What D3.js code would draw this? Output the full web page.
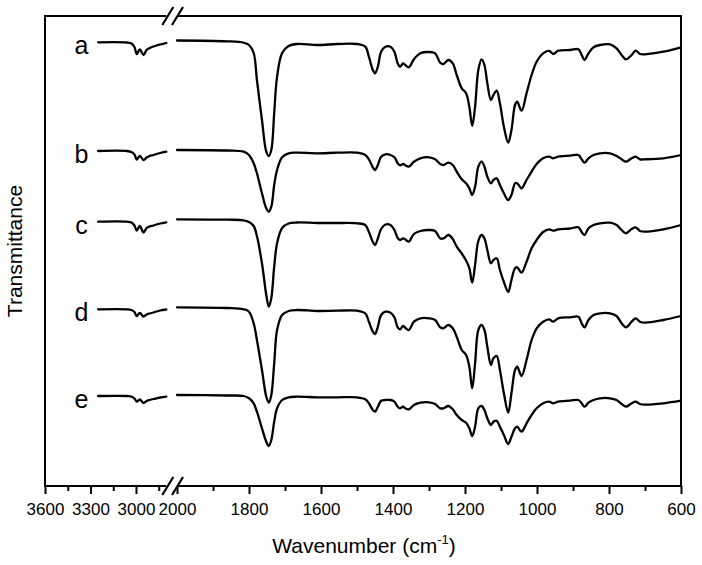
<!DOCTYPE html>
<html>
<head>
<meta charset="utf-8">
<script src="https://cdn.jsdelivr.net/npm/d3@7"></script>
<style>
  html, body { margin: 0; padding: 0; background: #fff; }
  svg { display: block; font-family: "Liberation Sans", Arial, sans-serif; }
</style>
</head>
<body>
<div id="chart"></div>
<script>
// ---------------- DATA ----------------
const traceLabels = ["a", "b", "c", "d", "e"];

// high-wavenumber segment (cm-1)
const wnHigh = [3250, 3060, 3030, 3010, 2995, 2975, 2950, 2930, 2910, 2885, 2865, 2840, 2800];
// low-wavenumber segment (cm-1)
const wnLow = [2000,1860,1815,1800,1787,1778,1764,1752,1745,1738,1730,1722,1708,1690,1667,1610,1555,1500,1477,1467,
  1456,1450,1442,1433,1421,1407,1396,1387,1380,1372,1366,1356,1342,1324,1300,1283,1269,1260,1246,1234,
  1223,1209,1197,1188,1180,1172,1163,1154,1146,1138,1128,1121,1112,1103,1092,1080,1071,1061,1055,1043,
  1029,1015,1001,983,966,955,941,908,885,876,868,857,843,825,797,779,765,753,737,726,714,700,649,600];

// transmittance (a.u., stacked) — high segment
const aHigh = [443.7, 443.5, 442.5, 439, 432, 436.5, 431, 436, 438, 439.5, 440.5, 441.5, 443];
const bHigh = [335, 335, 334, 331.5, 326.5, 330, 326, 328.5, 330, 331, 332, 333, 334.3];
const cHigh = [264.3, 264.3, 263.5, 260.5, 255.3, 260, 253.5, 258, 259.5, 260.5, 261.5, 262.5, 263.7];
const dHigh = [176.7, 176.7, 176, 174, 170, 173, 169.5, 171.5, 172.5, 173.5, 174.5, 175.5, 176.5];
const eHigh = [90, 90, 89.5, 87.5, 84.3, 86.5, 83, 85, 86, 87, 87.7, 88.5, 89.3];

// transmittance (a.u., stacked) — low segment
const aLow = [445.5,444.7,443.3,441,433,406,366,334.3,330,336,
  373,409.3,433,440,442,441,442,442,439.3,429.3,
  416,412.7,419.3,434.3,439.3,439.3,434.3,422.7,419.3,422.7,
  421,418.7,426.7,432.7,434,432.7,423.3,422,426,422.7,
  411,397.7,392.7,379.3,360,379.3,416,426.7,421,402.7,
  386,391,395.3,382.7,359.3,343.3,356,381,384.3,375.3,
  392.7,411,424.3,432.7,435,432,435.3,436,436.7,431,
  426,432.7,438.7,441,441.7,437.7,431,426.7,431,435.3,
  432,431.7,434.3,438.7];
const bLow = [336,335.5,334.3,331,322.7,312.7,292.7,277.7,274.3,279.3,
  301,316,328.7,332.7,333.3,332.7,333.3,333.3,331,326.7,
  318.7,316,321,329.3,331.7,331,328.7,322.7,320.7,322,
  320.7,319.3,324.3,327.7,328.7,326.7,322,321,323.3,321,
  314.3,306.7,302.7,297.7,291,299.3,319.3,324.3,319.3,309.3,
  302.7,306,307.7,301,292.7,286,291,302.7,302.7,297.7,
  306,314.3,322,327.7,329.3,327.7,329.3,330.3,331,326.7,
  323.3,327.7,331,332.7,332.7,330,326.7,324.3,327.7,329.3,
  326.7,326.7,327.7,331];
const cLow = [266.7,266.3,265.7,264,260,250,222.7,191,179.3,188,
  219.3,242.7,258,262.5,263.5,263,263,262.7,261,254,
  244,241,247.7,257,261.5,261,256,248,246,247.7,
  246.7,244.3,252,255,256,255,247.7,247.5,251,247,
  239.3,232.5,225.5,218,203.3,221,245,251,247.5,236,
  222.7,226,227.7,216,204,194,206,217.7,218.7,213.3,
  224.3,237.7,246,254,256.7,255.3,256.7,257.5,258.7,254,
  251,257.7,261,262.7,263.3,261,256,252.7,257,258.7,
  255,254.3,256.7,261];
const dLow = [178.7,178,176.7,174.3,162.7,146,116,89.3,83.3,91,
  122.7,156,171,175,176,175,175.3,175.3,172.7,164.3,
  154.3,152,159.3,171,174.3,173.3,168.7,158.7,156.7,160,
  158.3,156,164.3,167.7,167.7,166,158.7,157.7,161,157.7,
  149.3,136,131,119.3,97.7,122.7,156,161,156,139.3,
  121,127.7,130,116,92.7,73.3,92.7,116,119.3,110,
  126,146,157.7,164.3,166.7,164.3,167.7,168.7,169.3,162.7,
  158.7,166,171,172.7,172.7,170,162.7,158.7,164.3,167.7,
  164.3,163.3,166,170];
const eLow = [91,90.5,90,87.7,82.7,74.3,57.7,44.3,40,46,
  64.3,77.7,86,88.7,89.3,88.7,88.7,88.7,86.7,82.7,
  76,74.3,79.3,85.3,86,86,84.3,79.3,77.7,79.3,
  77.7,76.7,81,83.3,83.7,82,77.7,77.7,80,76.7,
  71,66,63.3,57.7,50,59.3,77.7,80,76,67.7,
  61,64.3,65.3,59.3,51,42,49.3,57.7,59.3,54.3,
  62.7,71,77.7,82.7,84.3,82.7,84.3,85.3,86,82.7,
  79.3,83.3,86,87.7,87.7,86,82,79.3,82.7,84.3,
  82,81.3,82.7,85.3];

const highSeries = [aHigh, bHigh, cHigh, dHigh, eHigh];
const lowSeries = [aLow, bLow, cLow, dLow, eLow];

const majorHigh = [3600, 3300, 3000];
const minorHigh = [3450, 3150, 2850];
const majorLow = [2000, 1800, 1600, 1400, 1200, 1000, 800, 600];
const minorLow = [1900, 1700, 1500, 1300, 1100, 900, 700];

// ---------------- LAYOUT ----------------
const W = 702, H = 565;
const pLeft = 45, pRight = 681, pTop = 16, pBottom = 486;
const breakL = 166.3, breakR = 177;

const xHigh = d3.scaleLinear().domain([3600, 2800]).range([pLeft, breakL]);
const xLow = d3.scaleLinear().domain([2000, 600]).range([breakR, pRight]);
const yScale = d3.scaleLinear().domain([0, 470]).range([pBottom, pTop]);

const svg = d3.select("#chart").append("svg").attr("width", W).attr("height", H);

// traces
const makeLine = (xs, wn) => d3.line()
  .x((d, i) => xs(wn[i]))
  .y(d => yScale(d))
  .curve(d3.curveCatmullRom.alpha(0.5));

const traces = svg.append("g").attr("fill", "none").attr("stroke", "#000")
  .attr("stroke-width", 2.3).attr("stroke-linejoin", "round").attr("stroke-linecap", "round");
highSeries.forEach(s => traces.append("path").attr("d", makeLine(xHigh, wnHigh)(s)));
lowSeries.forEach(s => traces.append("path").attr("d", makeLine(xLow, wnLow)(s)));

// trace labels
svg.append("g").selectAll("text").data(traceLabels).join("text")
  .attr("x", xHigh(3360))
  .attr("y", (d, i) => yScale(highSeries[i][0]) + 12)
  .attr("text-anchor", "middle")
  .attr("font-size", 25)
  .text(d => d);

// frame
const frame = svg.append("g").attr("stroke", "#000").attr("stroke-width", 2).attr("fill", "none");
frame.append("line").attr("x1", pLeft).attr("x2", pLeft).attr("y1", pTop - 1).attr("y2", pBottom + 1);
frame.append("line").attr("x1", pRight).attr("x2", pRight).attr("y1", pTop - 1).attr("y2", pBottom + 1);
[pTop, pBottom].forEach(yy => {
  frame.append("line").attr("x1", pLeft).attr("x2", breakL).attr("y1", yy).attr("y2", yy);
  frame.append("line").attr("x1", breakR).attr("x2", pRight).attr("y1", yy).attr("y2", yy);
  [breakL + 1.5, breakR + 0.5].forEach(cx => {
    frame.append("line").attr("stroke-width", 2.2)
      .attr("x1", cx - 5.5).attr("y1", yy + 9).attr("x2", cx + 5.5).attr("y2", yy - 9);
  });
});

// axes (bottom)
function drawAxis(scale, major, minor) {
  const gMaj = svg.append("g").attr("transform", `translate(0,${pBottom})`)
    .call(d3.axisBottom(scale).tickValues(major).tickSize(8).tickPadding(9).tickFormat(d3.format("d")));
  gMaj.select(".domain").remove();
  gMaj.selectAll(".tick line").attr("stroke", "#000").attr("stroke-width", 2);
  gMaj.selectAll(".tick text").attr("font-size", 17).attr("fill", "#000")
    .attr("font-family", "'Liberation Sans', Arial, sans-serif");
  const gMin = svg.append("g").attr("transform", `translate(0,${pBottom})`)
    .call(d3.axisBottom(scale).tickValues(minor).tickSize(5).tickFormat(""));
  gMin.select(".domain").remove();
  gMin.selectAll(".tick line").attr("stroke", "#000").attr("stroke-width", 2);
}
drawAxis(xHigh, majorHigh, minorHigh);
drawAxis(xLow, majorLow, minorLow);

// axis titles
const xt = svg.append("text").attr("x", 364).attr("y", 553).attr("text-anchor", "middle")
  .attr("font-size", 21);
xt.append("tspan").text("Wavenumber (cm");
xt.append("tspan").attr("font-size", 13).attr("dy", -9).text("-1");
xt.append("tspan").attr("dy", 9).text(")");

svg.append("text").attr("transform", `translate(22,251) rotate(-90)`)
  .attr("text-anchor", "middle").attr("font-size", 21).text("Transmittance");
</script>
</body>
</html>
